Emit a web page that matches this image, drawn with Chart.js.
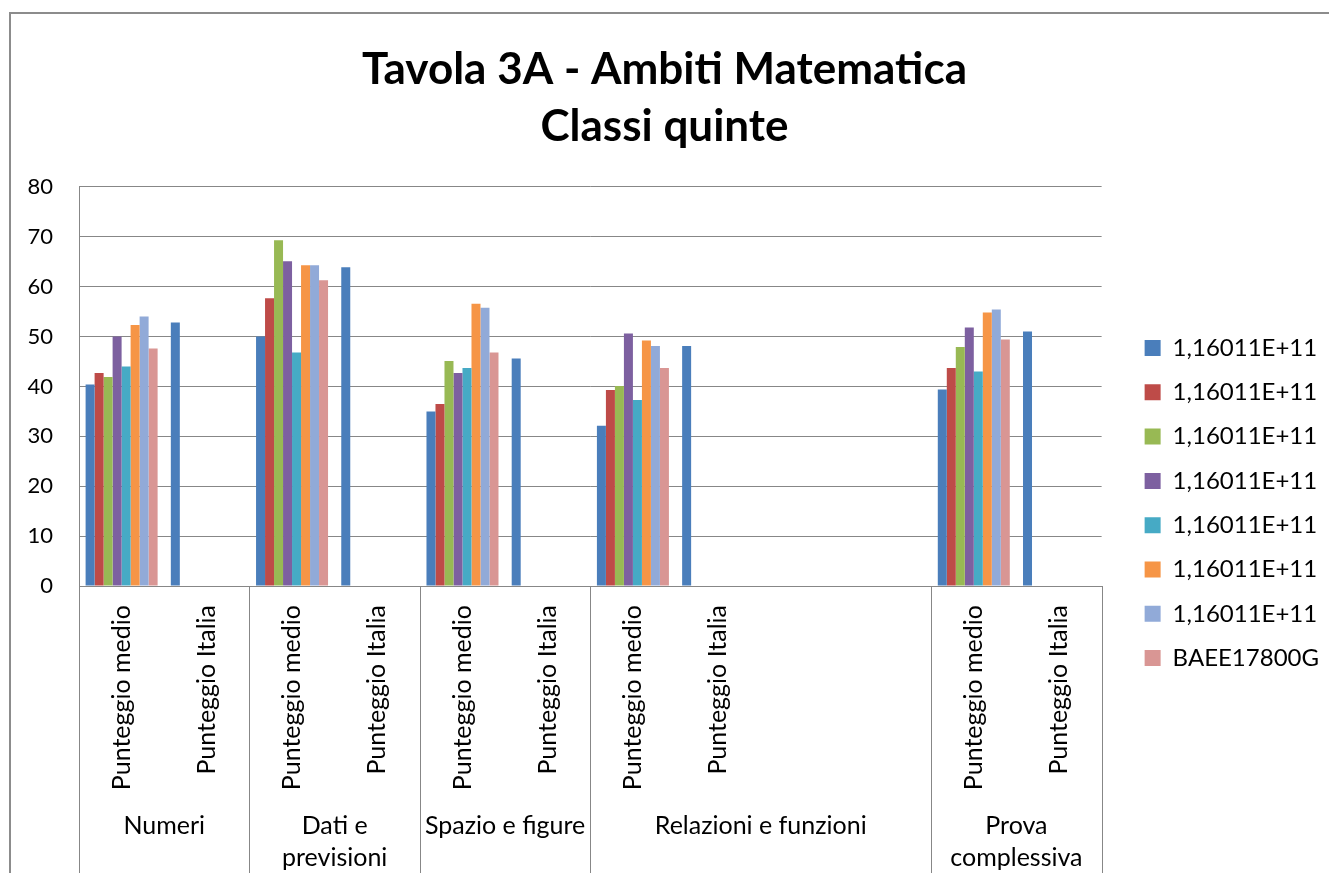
<!DOCTYPE html>
<html><head><meta charset="utf-8">
<script src="https://cdn.jsdelivr.net/npm/chart.js@4.4.1/dist/chart.umd.min.js"></script>
<style>html,body{margin:0;padding:0;background:#fff}#wrap{width:1329px;height:873px;position:relative}</style>
</head><body><div id="wrap"><canvas id="c" width="1329" height="873"></canvas></div>
<script>
const categories = ["Punteggio medio","Punteggio Italia","Punteggio medio","Punteggio Italia","Punteggio medio","Punteggio Italia","Punteggio medio","Punteggio Italia","","","Punteggio medio","Punteggio Italia"];
const groupLabels = [["Numeri"],["Dati e","previsioni"],["Spazio e figure"],["Relazioni e funzioni"],["Prova","complessiva"]];
const groupSpans = [2,2,2,4,2];
const seriesNames = ["1,16011E+11","1,16011E+11","1,16011E+11","1,16011E+11","1,16011E+11","1,16011E+11","1,16011E+11","BAEE17800G"];
const seriesColors = ["#4A7EBB","#BE4B48","#98B954","#7D60A0","#46AAC5","#F69546","#91AAD8","#D99694"];
const s1 = [40.4,52.8,50.0,63.9,35.0,45.6,32.1,48.1,null,null,39.4,51.0];
const s2 = [42.7,null,57.7,null,36.5,null,39.3,null,null,null,43.7,null];
const s3 = [41.9,null,69.3,null,45.1,null,40.1,null,null,null,47.9,null];
const s4 = [50.0,null,65.1,null,42.7,null,50.6,null,null,null,51.8,null];
const s5 = [44.0,null,46.8,null,43.7,null,37.3,null,null,null,43.0,null];
const s6 = [52.3,null,64.3,null,56.6,null,49.2,null,null,null,54.8,null];
const s7 = [54.0,null,64.3,null,55.8,null,48.1,null,null,null,55.4,null];
const s8 = [47.6,null,61.3,null,46.8,null,43.7,null,null,null,49.4,null];
const titleLines = ["Tavola 3A - Ambiti Matematica","Classi quinte"];

const seriesValues = [s1,s2,s3,s4,s5,s6,s7,s8];
const FONT = 'Lato';
const GRID = '#878787';

const framePlugin = {
  id: 'frame',
  beforeDraw(chart) {
    const ctx = chart.ctx;
    ctx.save();
    ctx.fillStyle = '#fff';
    ctx.fillRect(0, 0, chart.width, chart.height);
    ctx.strokeStyle = '#8c8c8c';
    ctx.lineWidth = 2;
    ctx.strokeRect(10, 13, chart.width + 20, chart.height + 20);
    ctx.restore();
  }
};

const groupAxisPlugin = {
  id: 'groupAxis',
  afterDraw(chart) {
    const ctx = chart.ctx;
    const xs = chart.scales.x;
    const ca = chart.chartArea;
    const half = (xs.getPixelForValue(1) - xs.getPixelForValue(0)) / 2;
    ctx.save();
    ctx.strokeStyle = GRID;
    ctx.lineWidth = 1;
    ctx.fillStyle = '#000';
    ctx.font = '25px ' + FONT;
    ctx.textAlign = 'center';
    ctx.textBaseline = 'alphabetic';
    let idx = 0;
    groupSpans.forEach((span, g) => {
      const start = xs.getPixelForValue(idx) - half;
      const end = xs.getPixelForValue(idx + span - 1) + half;
      [start, end].forEach(px => {
        const p = Math.round(px) + 0.5;
        ctx.beginPath();
        ctx.moveTo(p, ca.bottom);
        ctx.lineTo(p, chart.height);
        ctx.stroke();
      });
      const cx = (start + end) / 2;
      groupLabels[g].forEach((line, li) => {
        ctx.fillText(line, cx, ca.bottom + 248 + li * 32);
      });
      idx += span;
    });
    ctx.restore();
  }
};

function build() {
  new Chart(document.getElementById('c'), {
    type: 'bar',
    data: {
      labels: categories,
      datasets: seriesValues.map((vals, i) => ({
        label: seriesNames[i],
        data: vals,
        backgroundColor: seriesColors[i],
        borderWidth: 0,
        categoryPercentage: 0.845,
        barPercentage: 1.0
      }))
    },
    options: {
      responsive: false,
      animation: false,
      layout: { padding: { top: 12, left: 0, right: 0, bottom: 0 } },
      plugins: {
        tooltip: { enabled: false },
        title: {
          display: true,
          text: titleLines,
          color: '#000',
          font: { family: FONT, size: 44, weight: 'bold', lineHeight: 1.3 },
          padding: { top: 29.5, bottom: 31 }
        },
        legend: {
          position: 'right',
          align: 'start',
          title: { display: true, text: ' ', font: { size: 10, lineHeight: 1 }, padding: { top: 293.7, bottom: 0 } },
          labels: {
            boxWidth: 16, boxHeight: 16, padding: 20.3,
            color: '#000',
            font: { family: FONT, size: 24 }
          }
        }
      },
      scales: {
        x: {
          type: 'category',
          offset: true,
          grid: { display: false, drawTicks: false },
          border: { display: true, color: GRID, width: 1 },
          ticks: {
            autoSkip: false, maxRotation: 90, minRotation: 90, padding: 19,
            color: '#000', font: { family: FONT, size: 25 }
          },
          afterFit(s) { s.height = 287; }
        },
        y: {
          min: 0, max: 80,
          grid: { color: GRID, lineWidth: 1, drawTicks: false },
          border: { display: true, color: GRID, width: 1 },
          ticks: { stepSize: 10, padding: 26, color: '#000', font: { family: FONT, size: 22 } },
          afterFit(s) { s.width = 79; }
        },
        spacer: {
          type: 'linear',
          position: 'right',
          display: true,
          grid: { display: false, drawTicks: false },
          border: { display: false },
          ticks: { display: false },
          afterFit(s) { s.width = 22.7; }
        }
      }
    },
    plugins: [framePlugin, groupAxisPlugin]
  });
}
if (document.fonts && document.fonts.load) {
  Promise.all([document.fonts.load('25px Lato'), document.fonts.load('bold 44px Lato')]).then(build, build);
} else { build(); }
</script>
</body></html>
